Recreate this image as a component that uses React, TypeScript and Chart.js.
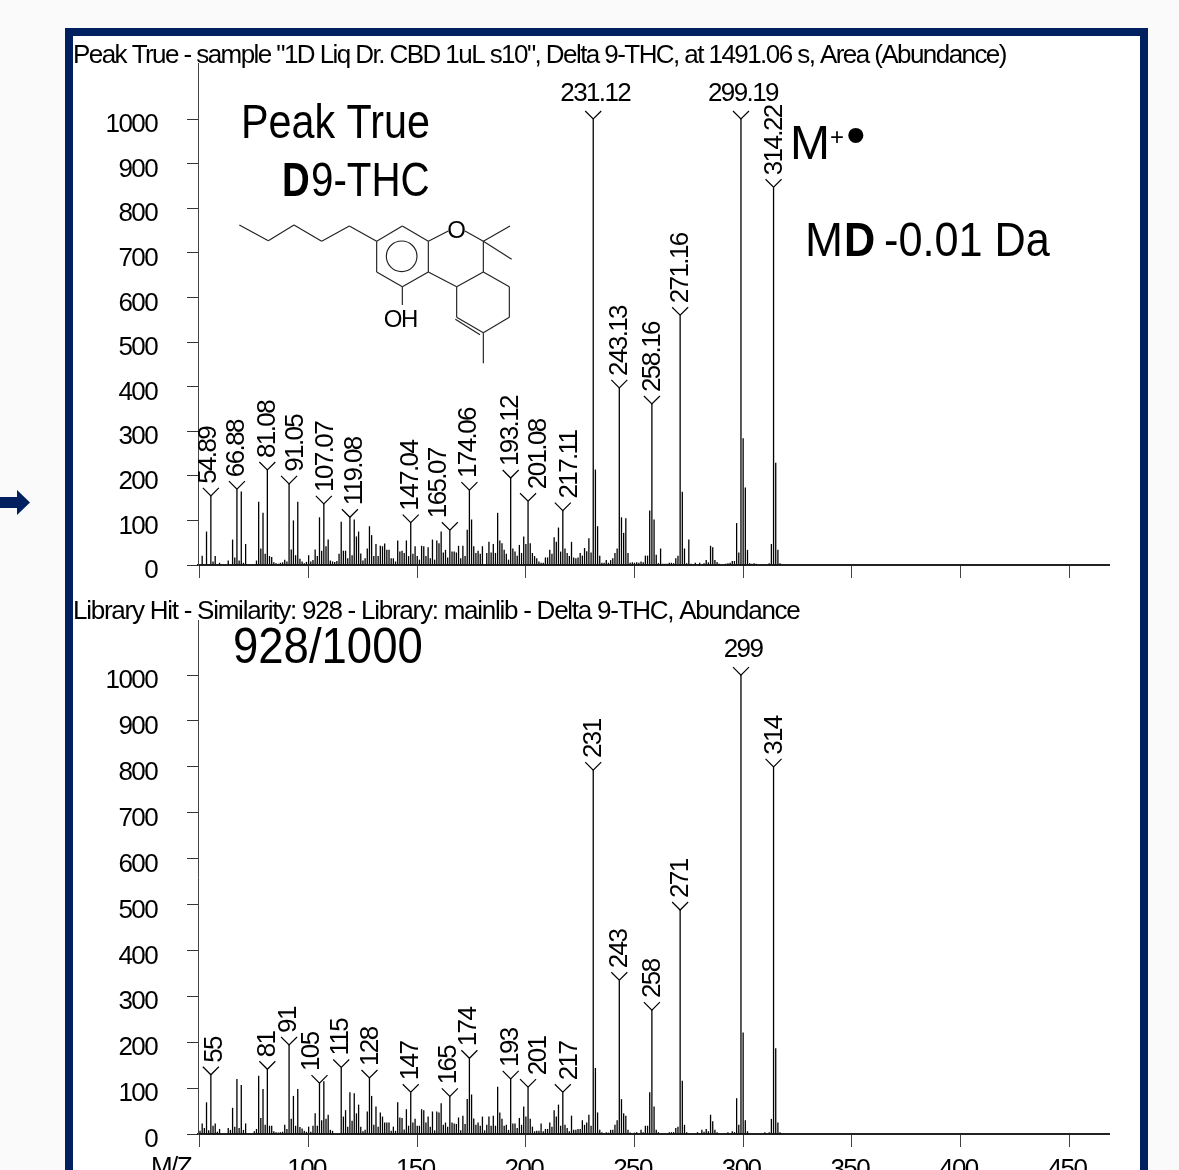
import React, { useEffect, useRef } from "react";
import { Chart, registerables } from "chart.js";

Chart.register(...registerables);

const topTitle = 'Peak True - sample "1D Liq Dr. CBD 1uL s10", Delta 9-THC, at 1491.06 s, Area (Abundance)';
const bottomTitle = "Library Hit - Similarity: 928 - Library: mainlib - Delta 9-THC, Abundance";

const yTicks = [0, 100, 200, 300, 400, 500, 600, 700, 800, 900, 1000];
const xTicks = [50, 100, 150, 200, 250, 300, 350, 400, 450];

const topSpectrum: [number, number][] = [
  [51,21],[53,75],[55,155],[56,8],[57,20],[59,5],[63,10],[65,57],[66,17],[67,170],[68,10],[69,165],[70,5],[71,47],[76,10],[77,142],[78,37],[79,117],[80,25],[81,213],[82,20],[83,18],[84,6],[85,4],[86,3],[87,5],[88,6],[89,12],[90,8],
  [91,182],[92,35],[93,100],[94,22],[95,142],[96,14],[97,8],[98,4],[99,7],[100,22],[101,8],[102,11],[103,35],[104,20],[105,107],[106,32],[107,137],[108,42],[109,57],[110,10],[111,8],[112,7],[113,9],[114,25],[115,97],[116,32],[117,32],[118,15],[119,107],[120,22],
  [121,102],[122,64],[123,75],[124,26],[125,10],[126,15],[127,37],[128,87],[129,67],[130,20],[131,47],[132,20],[133,43],[134,42],[135,48],[136,34],[137,34],[138,15],[139,15],[140,8],[141,55],[142,30],[143,32],[144,27],[145,55],[146,20],[147,95],[148,25],[149,42],[150,20],
  [151,12],[152,43],[153,42],[154,20],[155,40],[156,15],[157,57],[158,12],[159,55],[160,49],[161,75],[162,28],[163,34],[164,17],[165,78],[166,30],[167,30],[168,28],[169,43],[170,15],[171,43],[172,20],[173,79],[174,168],[175,102],[176,42],[177,27],[178,32],[179,25],[180,42],
  [182,27],[183,52],[184,28],[185,47],[186,27],[187,117],[188,55],[189,49],[190,34],[191,25],[192,12],[193,195],[194,37],[195,30],[196,21],[197,45],[198,27],[199,64],[200,47],[201,143],[202,49],[203,27],[204,20],[205,15],[206,8],[207,5],[208,5],[209,17],[210,17],
  [211,34],[212,25],[213,62],[214,52],[215,84],[216,30],[217,122],[218,37],[219,27],[220,20],[221,52],[222,17],[223,15],[224,17],[225,27],[226,21],[227,38],[228,31],[229,60],[230,28],[231,1000],[232,214],[233,87],[234,21],[235,5],[236,5],[237,11],[238,5],[239,11],[240,15],
  [241,27],[242,37],[243,397],[244,107],[245,72],[246,105],[247,27],[248,5],[249,6],[250,5],[251,6],[252,5],[253,8],[254,6],[255,21],[256,21],[257,122],[258,361],[259,102],[260,23],[261,4],[262,37],[263,3],[264,3],[265,3],[266,5],[267,5],[268,4],[269,15],[270,21],
  [271,560],[272,164],[273,37],[274,4],[275,57],[276,3],[278,5],[280,5],[282,4],[283,11],[284,6],[285,43],[286,40],[287,11],[288,7],[289,3],[292,3],[293,4],[294,5],[295,9],[296,9],[297,94],[298,28],[299,1000],[300,284],[301,174],[302,34],[303,4],[304,3],[305,4],[306,3],[312,4],[313,47],[314,847],[315,229],[316,34],[317,4],
];

const bottomSpectrum: [number, number][] = [
  [50,7],[51,23],[52,13],[53,69],[54,8],[55,129],[56,18],[57,23],[58,5],[59,11],[63,13],[64,9],[65,57],[66,16],[67,120],[68,13],[69,107],[70,9],[71,23],[75,6],[76,11],[77,127],[78,35],[79,98],[80,20],[81,141],[82,18],[83,18],[84,6],[85,4],[86,3],[87,4],[88,5],[89,20],[90,11],
  [91,194],[92,33],[93,83],[94,18],[95,98],[96,15],[97,12],[98,7],[99,5],[100,16],[101,5],[102,18],[103,45],[104,18],[105,111],[106,30],[107,115],[108,33],[109,42],[110,9],[111,7],[115,145],[116,38],[117,52],[118,16],[119,91],[120,29],
  [121,89],[122,45],[123,64],[124,16],[125,6],[126,9],[127,49],[128,122],[129,83],[130,20],[131,60],[132,16],[133,47],[134,38],[135,25],[136,25],[137,25],[138,7],[139,16],[140,7],[141,69],[142,36],[143,35],[144,10],[145,54],[146,18],[147,91],[148,25],[149,33],[150,18],
  [151,18],[152,54],[153,52],[154,25],[155,38],[156,16],[157,49],[158,8],[159,49],[160,47],[161,67],[162,20],[163,25],[164,16],[165,82],[166,25],[167,23],[168,22],[169,36],[170,8],[171,40],[172,22],[173,76],[174,165],[175,86],[176,34],[177,20],[178,25],[179,18],[180,38],
  [181,8],[182,20],[183,38],[184,18],[185,40],[186,18],[187,103],[188,47],[189,33],[190,18],[191,20],[192,9],[193,120],[194,23],[195,23],[196,13],[197,35],[198,20],[199,60],[200,38],[201,102],[202,33],[203,16],[204,6],[205,7],[206,7],[207,23],[208,6],[209,11],[210,11],
  [211,25],[212,16],[213,52],[214,38],[215,64],[216,18],[217,91],[218,20],[219,13],[220,6],[221,40],[222,9],[223,9],[224,11],[225,11],[226,30],[227,20],[228,25],[229,42],[230,18],[231,793],[232,144],[233,47],[234,9],[235,4],[237,4],[238,3],[239,9],[240,9],
  [241,20],[242,30],[243,335],[244,76],[245,45],[246,40],[247,9],[248,3],[250,3],[251,4],[253,9],[254,4],[255,18],[256,18],[257,91],[258,270],[259,60],[260,9],[261,4],[266,4],[267,4],[268,4],[269,13],[270,16],
  [271,488],[272,116],[273,20],[274,4],[279,4],[281,9],[282,5],[283,11],[284,6],[285,42],[286,28],[287,9],[288,4],[293,4],[295,6],[296,4],[297,78],[298,20],[299,1000],[300,221],[301,30],[302,6],[310,4],[312,4],[313,33],[314,800],[315,187],[316,25],[317,4],
];

// Annotated peaks: nominal mass, then the printed label.
const topPeakMz = [55, 67, 81, 91, 107, 119, 147, 165, 174, 193, 201, 217, 231, 243, 258, 271, 299, 314];
const topPeakLabels = ["54.89", "66.88", "81.08", "91.05", "107.07", "119.08", "147.04", "165.07", "174.06", "193.12", "201.08", "217.11", "231.12", "243.13", "258.16", "271.16", "299.19", "314.22"];
const bottomPeakMz = [55, 81, 91, 105, 115, 128, 147, 165, 174, 193, 201, 217, 231, 243, 258, 271, 299, 314];
const bottomPeakLabels = ["55", "81", "91", "105", "115", "128", "147", "165", "174", "193", "201", "217", "231", "243", "258", "271", "299", "314"];

// Label nudges (px, along x) to keep neighbours from colliding, as in the original software.
const topLabelShift = [-2, 0, 0, 7, 2, 5, 0, -11, -1, 0, 11, 7, 1, 1, 1, 1, 1, 1];
const bottomLabelShift = [4, 0, 0, -8, 0, 1, 0, -1, -1, 0, 11, 7, 1, 1, 1, 1, 1, 1];
const topHorizontal = ["231.12", "299.19"];
const bottomHorizontal = ["299"];

const FONT = '"Liberation Sans", Arial, sans-serif';
const NAVY = "#002060";
const X_MIN = 49.08;
const X_MAX = 468.4;
const LABEL_SIZE = 26;
const LABEL_SPACING = "-1.6px";

type Spec = {
  spectrum: [number, number][];
  title: string;
  titleSpacing: number;
  titleY: number;
  areaTop: number;
  yMax: number;
  peakMz: number[];
  peakLabels: string[];
  shift: number[];
  horizontal: string[];
  xLabels: boolean;
  xAxisHeight: number;
  annotate: (ctx: CanvasRenderingContext2D) => void;
};

function text(ctx: any, s: string, x: number, y: number, size: number, spacing: number, weight = "normal", align: CanvasTextAlign = "left") {
  ctx.font = `${weight} ${size}px ${FONT}`;
  ctx.letterSpacing = `${spacing}px`;
  ctx.textAlign = align;
  ctx.textBaseline = "middle";
  ctx.fillStyle = "#000";
  ctx.fillText(s, x, y);
}

// Large annotation text: the original uses a condensed face, so squeeze horizontally.
function squeezed(ctx: any, s: string, x: number, y: number, size: number, sx: number, weight = "normal") {
  ctx.save();
  ctx.translate(x, y);
  ctx.scale(sx, 1);
  text(ctx, s, 0, 0, size, 0, weight);
  ctx.restore();
}

function build(canvas: HTMLCanvasElement, spec: Spec) {
  const labelPlugin = {
    id: "peakLabels",
    beforeDraw(chart: any) {
      chart.ctx.letterSpacing = LABEL_SPACING;
    },
    afterDatasetsDraw(chart: any) {
      const { ctx, scales } = chart;
      ctx.save();
      text(ctx, spec.title, 0, spec.titleY, 26, spec.titleSpacing);
      spec.peakMz.forEach((mz, i) => {
        const pair = spec.spectrum.find((p) => p[0] === mz);
        if (!pair) return;
        const px = scales.x.getPixelForValue(mz);
        const py = scales.y.getPixelForValue(pair[1]);
        ctx.strokeStyle = "#000";
        ctx.lineWidth = 1.2;
        ctx.beginPath();
        ctx.moveTo(px - 8, py - 8);
        ctx.lineTo(px, py);
        ctx.lineTo(px + 8, py - 8);
        ctx.stroke();
        const label = spec.peakLabels[i];
        if (spec.horizontal.includes(label)) {
          text(ctx, label, px + 2, py - 25, LABEL_SIZE, -1.6, "normal", "center");
        } else {
          ctx.save();
          ctx.translate(px + spec.shift[i], py - 12);
          ctx.rotate(-Math.PI / 2);
          text(ctx, label, 0, 0, LABEL_SIZE, -1.6);
          ctx.restore();
        }
      });
      spec.annotate(ctx);
      ctx.restore();
    },
  };

  const dropPadding = (s: any) => {
    s.paddingTop = 0;
    s.paddingBottom = 0;
    s.paddingLeft = 0;
    s.paddingRight = 0;
  };

  return new Chart(canvas, {
    type: "bar",
    plugins: [labelPlugin],
    data: {
      datasets: [
        {
          data: spec.spectrum.map(([x, y]) => ({ x, y })),
          backgroundColor: "#000",
          barThickness: 1.3,
          inflateAmount: 0,
          borderWidth: 0,
        } as any,
      ],
    },
    options: {
      animation: false,
      responsive: false,
      maintainAspectRatio: false,
      layout: { padding: { left: 0, right: 31, top: spec.areaTop, bottom: 0 } },
      plugins: {
        legend: { display: false },
        tooltip: { enabled: false },
        title: { display: false },
      },
      scales: {
        x: {
          type: "linear",
          min: X_MIN,
          max: X_MAX,
          offset: false,
          afterBuildTicks: (s: any) => {
            s.ticks = xTicks.map((value) => ({ value }));
          },
          afterFit: (s: any) => {
            s.height = spec.xAxisHeight;
            dropPadding(s);
          },
          grid: { offset: false, drawOnChartArea: false, drawTicks: true, tickLength: 13, tickColor: "#444" },
          border: { display: true, color: "#222", width: 2 },
          ticks: {
            display: spec.xLabels,
            autoSkip: false,
            maxRotation: 0,
            minRotation: 0,
            padding: 7,
            labelOffset: -2,
            color: "#000",
            font: { family: FONT, size: LABEL_SIZE },
            callback: (v: number) => (v === 50 ? "" : String(v)),
          },
        },
        y: {
          type: "linear",
          min: 0,
          max: spec.yMax,
          afterBuildTicks: (s: any) => {
            s.ticks = yTicks.map((value) => ({ value }));
          },
          afterFit: (s: any) => {
            s.width = 125;
            dropPadding(s);
          },
          grid: { drawOnChartArea: false, drawTicks: true, tickLength: 11, tickColor: "#333" },
          border: { display: true, color: "#444", width: 1 },
          ticks: {
            autoSkip: false,
            padding: 30,
            labelOffset: 6,
            color: "#000",
            font: { family: FONT, size: LABEL_SIZE },
            callback: (v: number) => String(v),
          },
        },
      },
    } as any,
  });
}

function Molecule() {
  const bonds: [number, number, number, number][] = [
    [58,75,145,122],[145,122,222,75],[222,75,305,124],[305,124,388,78],[388,78,470,124],
    [470,124,547,78],[547,78,625,124],[625,124,625,216],[625,216,547,260],[547,260,470,216],[470,216,470,124],
    [625,124,685,93],[735,93,790,124],[790,124,870,78],[790,124,875,178],[790,124,790,216],
    [790,216,868,260],[868,260,868,352],[868,352,790,398],[790,398,710,352],[780,404,706,358],[710,352,710,260],[710,260,790,216],[710,260,625,216],
    [790,398,790,490],[547,260,547,315],
  ];
  return (
    <svg viewBox="0 0 900 540" style={{ position: "absolute", left: 220, top: 200, width: 300, height: 180 }}>
      {bonds.map((b, i) => (
        <line key={i} x1={b[0]} y1={b[1]} x2={b[2]} y2={b[3]} stroke="#222" strokeWidth={3.5} />
      ))}
      <circle cx={545} cy={169} r={46} fill="none" stroke="#222" strokeWidth={3.5} />
      <text x={710} y={114} fontSize={72} textAnchor="middle" fontFamily={FONT}>O</text>
      <text x={541} y={380} fontSize={72} letterSpacing={-4} textAnchor="middle" fontFamily={FONT}>OH</text>
    </svg>
  );
}

export default function App() {
  const topRef = useRef<HTMLCanvasElement>(null);
  const bottomRef = useRef<HTMLCanvasElement>(null);

  useEffect(() => {
    const a = build(topRef.current!, {
      spectrum: topSpectrum,
      title: topTitle,
      titleSpacing: -1.57,
      titleY: 20,
      areaTop: 27,
      yMax: 1125.6,
      peakMz: topPeakMz,
      peakLabels: topPeakLabels,
      shift: topLabelShift,
      horizontal: topHorizontal,
      xLabels: false,
      xAxisHeight: 20,
      annotate: (ctx) => {
        squeezed(ctx, "Peak True", 168, 89, 48, 0.86);
        squeezed(ctx, "D", 209, 147, 48, 0.8, "bold");
        squeezed(ctx, "9-THC", 238, 147, 48, 0.84);
        squeezed(ctx, "M", 717, 110, 48, 1);
        squeezed(ctx, "+", 757, 102, 24, 1);
        squeezed(ctx, "•", 773, 103, 56, 1);
        squeezed(ctx, "M", 732, 207, 48, 0.95);
        squeezed(ctx, "D", 771, 207, 48, 0.9, "bold");
        squeezed(ctx, "-0.01 Da", 811, 207, 48, 0.9);
      },
    });
    const b = build(bottomRef.current!, {
      spectrum: bottomSpectrum,
      title: bottomTitle,
      titleSpacing: -1.25,
      titleY: 21,
      areaTop: 29,
      yMax: 1120,
      peakMz: bottomPeakMz,
      peakLabels: bottomPeakLabels,
      shift: bottomLabelShift,
      horizontal: bottomHorizontal,
      xLabels: true,
      xAxisHeight: 36,
      annotate: (ctx) => {
        squeezed(ctx, "928/1000", 160, 58, 50, 0.91);
        text(ctx, "M/Z", 78, 577, 26, -1.6);
      },
    });
    return () => {
      a.destroy();
      b.destroy();
    };
  }, []);

  return (
    <div style={{ position: "absolute", left: 0, top: 0, width: 1179, height: 1170, overflow: "hidden", background: "#fafafa" }}>
      <div style={{ position: "absolute", left: 65, top: 28, width: 1083, height: 1200, boxSizing: "border-box", border: `8px solid ${NAVY}`, background: "#fff" }} />
      <svg style={{ position: "absolute", left: 0, top: 488, width: 32, height: 30 }}>
        <polygon points="0,9 17,9 17,2 30,14.5 17,27 17,20 0,20" fill={NAVY} />
      </svg>
      <canvas ref={topRef} width={1067} height={549} style={{ position: "absolute", left: 73, top: 36 }} />
      <canvas ref={bottomRef} width={1067} height={579} style={{ position: "absolute", left: 73, top: 591 }} />
      <Molecule />
    </div>
  );
}
